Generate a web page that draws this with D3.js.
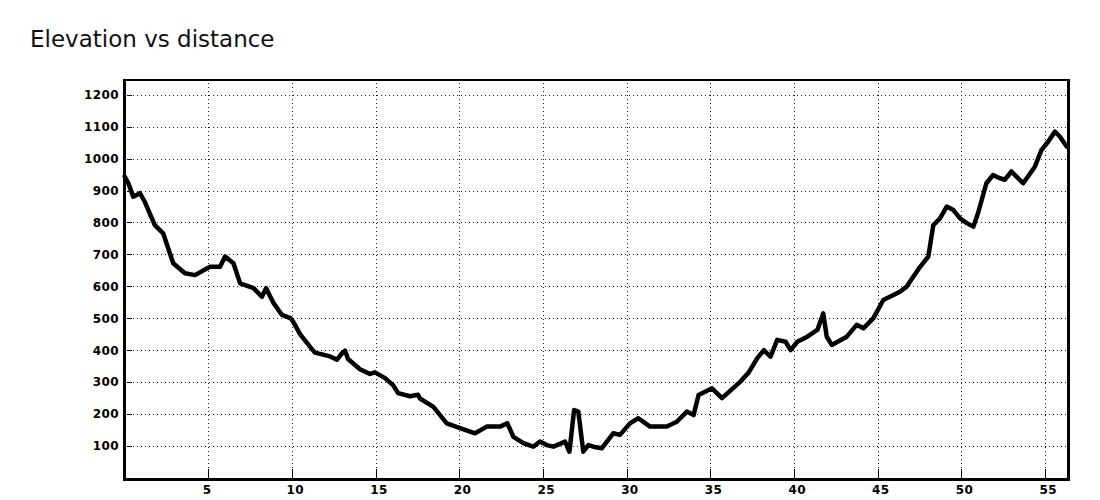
<!DOCTYPE html>
<html>
<head>
<meta charset="utf-8">
<script src="https://cdn.jsdelivr.net/npm/d3@7"></script>
<style>
  html, body { margin: 0; padding: 0; background: #fff; }
  svg { display: block; }
</style>
</head>
<body>
<svg id="chart" width="1100" height="500"></svg>
<script>
const distKm = [0, 0.22, 0.51, 0.91, 1.2, 1.8, 2.3, 2.9, 3.6, 4.2, 5.1, 5.7, 6.0, 6.5, 6.9, 7.7, 8.2, 8.45, 8.9, 9.4, 9.9,
  10.06, 10.48, 11.08, 11.37, 12.27, 12.69, 12.99, 13.17, 13.35, 14.06, 14.66, 14.96, 15.56, 16.04, 16.34, 17.05, 17.53,
  17.65, 18.45, 19.25, 20.04, 20.94, 21.64, 22.43, 22.87, 23.23, 23.83, 24.42, 24.82, 25.22, 25.62, 26.32, 26.58, 26.86,
  27.11, 27.41, 27.71, 28.01, 28.51, 29.2, 29.6, 30.2, 30.7, 31.4, 32.4, 33.0, 33.6, 34.0, 34.3, 35.1, 35.7, 36.8, 37.3,
  37.8, 38.2, 38.6, 39.0, 39.5, 39.8, 40.2, 40.8, 41.4, 41.75, 41.96, 42.26, 43.16, 43.75, 44.15, 44.75, 45.34, 46.34,
  46.74, 47.54, 48.03, 48.33, 48.73, 49.13, 49.53, 49.93, 50.33, 50.72, 51.0, 51.5, 51.9, 52.3, 52.6, 53.0, 53.3, 53.7,
  54.4, 54.8, 55.2, 55.6, 55.9, 56.3];
const elevM = [944, 923, 881, 892, 865, 792, 766, 672, 641, 635, 661, 661, 693, 672, 609, 594, 567, 594, 547, 510, 500,
  490, 450, 410, 392, 380, 370, 390, 398, 372, 340, 325, 330, 312, 290, 265, 255, 260,
  248, 222, 170, 155, 139, 160, 160, 170, 128, 108, 97, 113, 102, 97, 113, 81, 212,
  207, 81, 102, 97, 92, 139, 134, 170, 186, 160, 160, 175, 207, 196, 259, 280, 249, 301, 330,
  374, 400, 379, 432, 426, 400, 426, 442, 463, 515, 442, 416, 442, 479, 468, 500, 557, 583,
  599, 661, 693, 792, 813, 850, 839, 813, 798, 787, 829, 923, 949, 939, 934, 960, 944, 923,
  975, 1028, 1054, 1085, 1069, 1038];
const xTicks = [5, 10, 15, 20, 25, 30, 35, 40, 45, 50, 55];
const yTicks = [100, 200, 300, 400, 500, 600, 700, 800, 900, 1000, 1100, 1200];
const titleText = "Elevation vs distance";

(function () {
const svg = d3.select("#chart");
const pL = 124.7, pR = 1068, pT = 79, pB = 477.6;
const x = d3.scaleLinear().domain([0, 56.38]).range([pL, pR]);
const y = d3.scaleLinear().domain([0, 1250]).range([pB, pT]);

svg.append("text")
  .attr("x", 30).attr("y", 47)
  .attr("font-family", "DejaVu Sans")
  .attr("font-size", 23)
  .attr("fill", "#111")
  .text(titleText);

// grid
const grid = svg.append("g").attr("stroke", "#222").attr("stroke-width", 1)
  .attr("stroke-dasharray", "1,3").attr("shape-rendering", "crispEdges");
grid.selectAll("line.h").data(yTicks).join("line")
  .attr("x1", pL + 4).attr("x2", pR)
  .attr("y1", d => Math.round(y(d)) + 0.5).attr("y2", d => Math.round(y(d)) + 0.5);
grid.selectAll("line.v").data(xTicks).join("line")
  .attr("y1", pT).attr("y2", pB)
  .attr("x1", d => Math.round(x(d)) + 0.5).attr("x2", d => Math.round(x(d)) + 0.5);

// ticks
const ticks = svg.append("g").attr("stroke", "#000").attr("stroke-width", 1).attr("shape-rendering", "crispEdges");
ticks.selectAll("line.yt").data(yTicks).join("line")
  .attr("x1", pL + 2).attr("x2", pL + 7)
  .attr("y1", d => Math.round(y(d)) + 0.5).attr("y2", d => Math.round(y(d)) + 0.5);
ticks.selectAll("line.xt").data(xTicks).join("line")
  .attr("y1", pB - 9).attr("y2", pB + 1)
  .attr("x1", d => Math.round(x(d)) + 0.5).attr("x2", d => Math.round(x(d)) + 0.5);

// labels
const lab = svg.append("g").attr("font-family", "DejaVu Sans").attr("font-weight", "bold")
  .attr("font-size", 12).attr("fill", "#000").attr("letter-spacing", 0.4);
lab.selectAll("text.y").data(yTicks).join("text")
  .attr("x", 119).attr("y", d => y(d) + 4.5)
  .attr("text-anchor", "end")
  .text(d => d);
lab.selectAll("text.x").data(xTicks).join("text")
  .attr("x", d => x(d) - 5.5).attr("y", 493.5)
  .attr("text-anchor", "start")
  .text(d => d);

// elevation line
const pts = distKm.map((d, i) => [d, elevM[i]]);
svg.append("path")
  .datum(pts)
  .attr("fill", "none")
  .attr("stroke", "#000")
  .attr("stroke-width", 4.5)
  .attr("stroke-linejoin", "round")
  .attr("stroke-linecap", "round")
  .attr("d", d3.line().x(d => x(d[0])).y(d => y(d[1])));

// frame
const frame = svg.append("g").attr("stroke", "#000").attr("shape-rendering", "crispEdges");
frame.append("line").attr("x1", pL - 1.5).attr("x2", pR + 2).attr("y1", 80).attr("y2", 80).attr("stroke-width", 2);
frame.append("line").attr("x1", 124.5).attr("x2", 124.5).attr("y1", 79).attr("y2", 481).attr("stroke-width", 3);
frame.append("line").attr("x1", 123).attr("x2", 1070).attr("y1", 479.5).attr("y2", 479.5).attr("stroke-width", 3);
frame.append("line").attr("x1", 1068.5).attr("x2", 1068.5).attr("y1", 79).attr("y2", 481).attr("stroke-width", 3);
})();
</script>
</body>
</html>
